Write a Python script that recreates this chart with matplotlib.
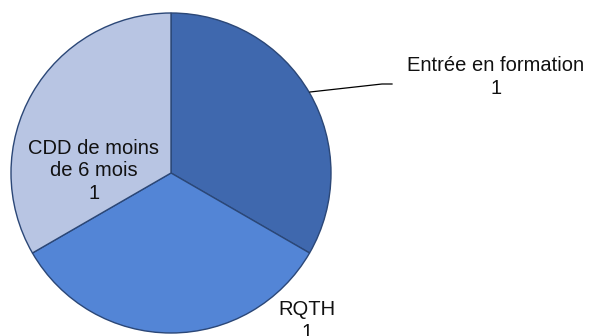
import matplotlib
matplotlib.use("Agg")
import matplotlib.pyplot as plt

categories = ["Entrée en formation", "RQTH", "CDD de moins\nde 6 mois"]
values = [1, 1, 1]
colors = ["#3F68AE", "#5385D6", "#B8C5E3"]

W, H = 598, 336
fig = plt.figure(figsize=(W / 100, H / 100), dpi=100)
ax = fig.add_axes([0, 0, 1, 1])

cx, cy, r = 171, H - 173, 160
wedges, _ = ax.pie(values, colors=colors, startangle=90, counterclock=False,
                   center=(cx, cy), radius=r, frame=True,
                   wedgeprops=dict(edgecolor="#2B4777", linewidth=1.0))
ax.set_xlim(0, W)
ax.set_ylim(0, H)
ax.set_aspect("equal")
ax.axis("off")

font = dict(family=["Liberation Sans", "DejaVu Sans"], fontsize=14.5, color="#111111")

# Entrée en formation (outside, with leader line)
ax.plot([310, 382, 392], [H - 92, H - 84, H - 84], color="black", lw=0.9)
ax.text(496, H - 77, f"{categories[0]}\n{values[0]}", ha="center", va="center",
        linespacing=1.25, **font)
# RQTH
ax.text(307, H - 321, f"{categories[1]}\n{values[1]}", ha="center", va="center",
        linespacing=1.25, **font)
# CDD
ax.text(94, H - 171, f"{categories[2]}\n{values[2]}", ha="center", va="center",
        linespacing=1.25, **font)

fig.savefig("out.png", dpi=100)
